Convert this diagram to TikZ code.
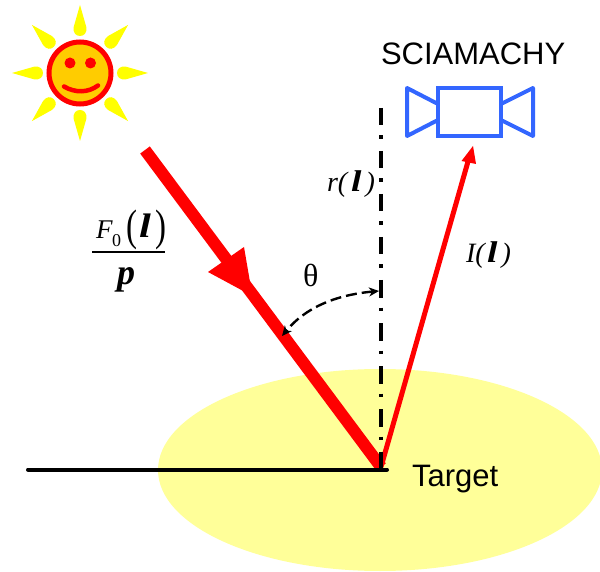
\documentclass[tikz,border=0pt]{standalone}
\usepackage{fontspec}
\setmainfont{Liberation Serif}
\newfontfamily\arialfont{Liberation Sans}
\usetikzlibrary{arrows.meta}
\definecolor{sunyellow}{RGB}{255,255,0}
\definecolor{sunface}{RGB}{255,204,0}
\definecolor{targetfill}{RGB}{255,255,153}
\definecolor{camblue}{RGB}{51,102,255}
\newcommand{\fsz}[1]{\fontsize{#1}{#1}\selectfont}
\newcommand{\bl}[1]{\scalebox{1.25}[1]{\fsz{#1}\bfseries\itshape l}}
\newcommand{\thinparen}[1]{\scalebox{0.75}[1]{#1}}
\tikzset{
  x=1pt,y=-1pt,
  lab/.style={inner sep=0pt,outer sep=0pt,anchor=base west},
  sanslab/.style={lab,font=\arialfont\fsz{31}},
  serlab/.style={lab,font=\fsz{28}\itshape},
  cam/.style={draw=camblue,line width=4pt,line join=round,line cap=round},
  ray/.style={fill=sunyellow},
  beam/.style={draw=red,line width=12pt},
  refl/.style={draw=red,line width=5pt},
  angarrow/.style={draw=black,line width=2.4pt,dash pattern=on 11pt off 5pt,{Stealth[length=10pt,width=9pt,inset=3pt,sep=0pt]}-{Stealth[length=10pt,width=9pt,inset=3pt]}},
}
\begin{document}
\begin{tikzpicture}
\useasboundingbox (0,0) rectangle (600,572);
\begin{scope}
\clip (0,0) rectangle (600,572);
\fill[targetfill] (380,470) ellipse [x radius=222pt,y radius=101pt];
\end{scope}
% sun
\foreach \a in {0,45,...,315}{
  \begin{scope}[shift={(80,73)},rotate=\a]
  \path[ray] (68,0) -- (46,-6.3)
     .. controls (40,-7.2) and (37,-4) .. (37,0)
     .. controls (37,4) and (40,7.2) .. (46,6.3) -- cycle;
  \end{scope}
}
\node[circle,draw=red,fill=sunface,line width=5pt,minimum size=62pt,inner sep=0pt] (sun) at (80,73) {};
\fill[red] (70,63) circle [radius=5.5pt] (90.5,63) circle [radius=5.5pt];
\draw[red,line width=4.5pt,line cap=round] (64,86.5) .. controls (75,93) and (88,93) .. (98,85.5);
% camera
\coordinate (camL1) at (407,88); \coordinate (camL2) at (407,136);
\coordinate (camR1) at (533,88); \coordinate (camR2) at (533,136);
\node[draw=camblue,line width=4pt,minimum width=63pt,minimum height=48pt,inner sep=0pt] (body) at (469.5,112) {};
\draw[cam] (438,104) -- (camL1) -- (camL2) -- (438,120);
\draw[cam] (501,104) -- (camR1) -- (camR2) -- (501,120);
% geometry
\coordinate (base) at (381,467);
\coordinate (groundL) at (28,469.5);
\coordinate (groundR) at (387,469.5);
\coordinate (normalTop) at (381,108);
\coordinate (normalEnd) at (381,469);
\coordinate (beamStart) at (145,150);
\coordinate (refTip) at (473,146);
\coordinate (refNeck) at (469,158);
\coordinate (angA) at (379,291);
\coordinate (angB) at (282,336);
% beam
\draw[beam] (beamStart) -- (base);
\fill[red] (244,247) -- (208,272) -- (246,292.5) -- (250,282) -- cycle;
% reflected
\draw[refl] (base) -- (refNeck);
\fill[red] (refTip) -- (461.5,161) -- (476,164) -- cycle;
% normal, ground
\draw[line width=4pt,dash pattern=on 17.5pt off 10pt on 3.5pt off 12pt] (normalTop) -- (normalEnd);
\draw[line width=4pt,line cap=round] (groundL) -- (groundR);
% angle
\draw[angarrow] (angA) .. controls (335,295) and (305,308) .. (angB);
% labels
\node[sanslab] (sci) at (381,65) {SCIAMACHY};
\node[sanslab] (tgt) at (412,486) {Target};
\node[lab,font=\fsz{32}] (theta) at (303,286.5) {θ};
\node[serlab] (rl) at (327,192) {r(\kern4pt\bl{30}\kern4pt)};
\node[serlab] (il) at (466,263) {I(\kern2.5pt\bl{30}\kern4pt)};
\node[lab,font=\fsz{27}\itshape] (F) at (96,239) {F};
\node[lab,font=\fsz{18}] (zero) at (112,246.5) {0};
\node[lab,font=\fsz{44}] (lp) at (126,241) {\thinparen{(}};
\node[lab] (ll) at (139,238) {\bl{34}};
\node[lab,font=\fsz{44}] (rp) at (155,241) {\thinparen{)}};
\draw[line width=1.2pt] (92,252) -- (165,252);
\node[lab,font=\fsz{36}\bfseries\itshape] (p) at (117,284) {p};
\end{tikzpicture}
\end{document}
